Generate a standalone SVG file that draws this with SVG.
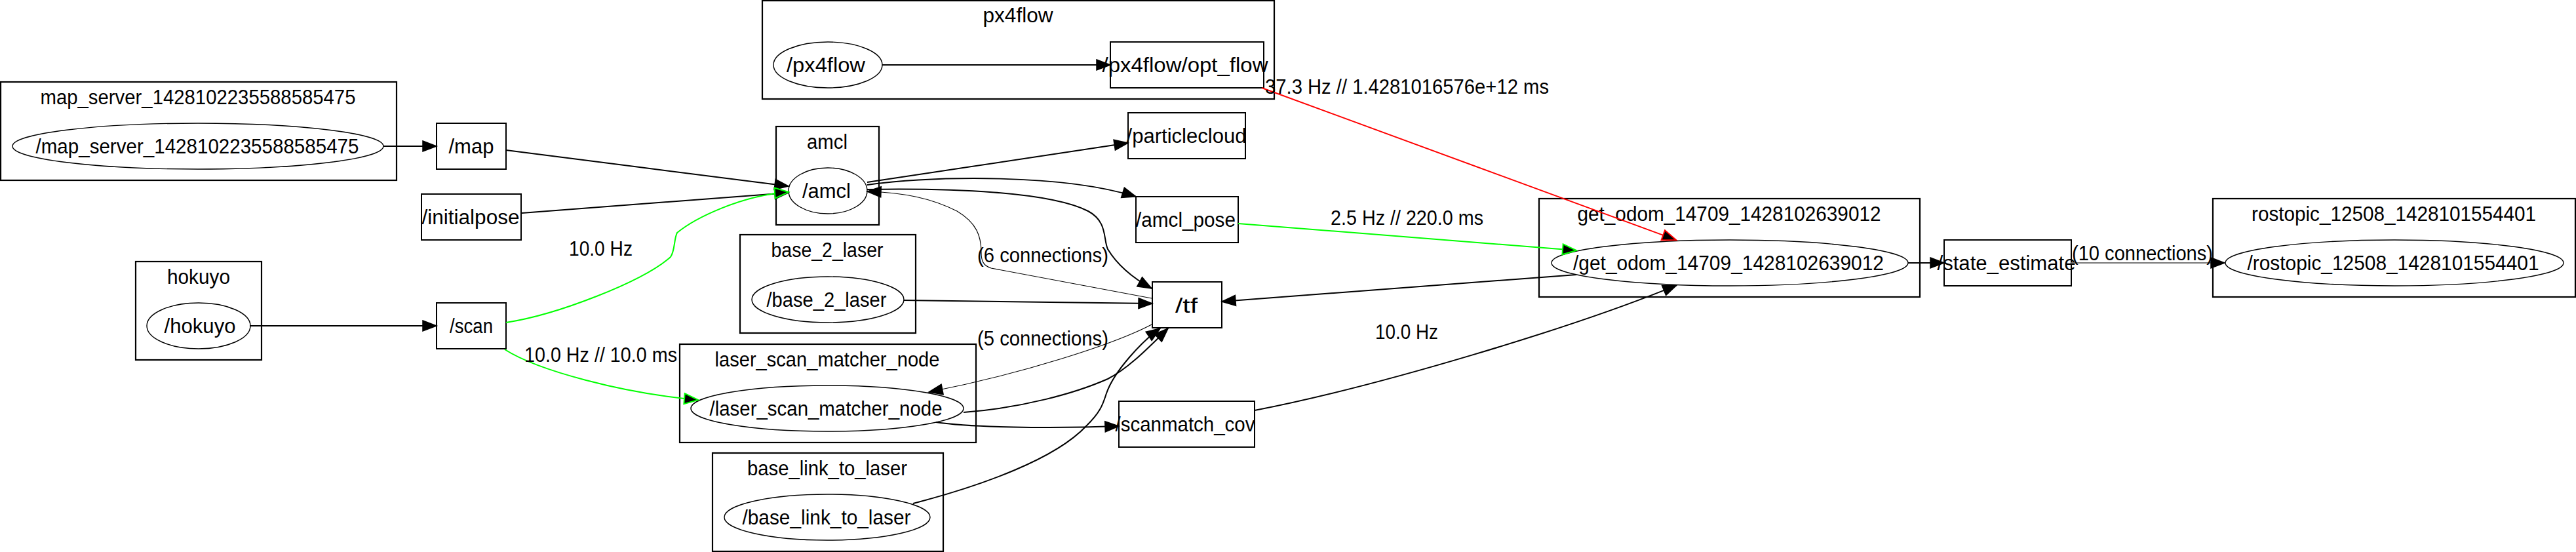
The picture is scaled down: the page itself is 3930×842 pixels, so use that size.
<svg xmlns="http://www.w3.org/2000/svg" width="3930" height="842" viewBox="0 0 3930 842">
<style>
text{font-family:"Liberation Sans",Arial,sans-serif;font-size:31px;fill:#000}
.m{text-anchor:middle}
.cl{fill:none;stroke:#000;stroke-width:2.2}
.nd{fill:none;stroke:#000;stroke-width:1.4}
.tp{fill:none;stroke:#000;stroke-width:2}
.e{fill:none;stroke:#000;stroke-width:2}
.thin{stroke-width:1.1}
.g{stroke:#00ff00}
.r{stroke:#ff0000}
.gr{stroke:#777}
</style>
<defs>
<marker id="ah" viewBox="0 0 22 17" refX="21" refY="8.5" markerWidth="22" markerHeight="17" markerUnits="userSpaceOnUse" orient="auto" overflow="visible"><path d="M0,0.5 L21,8.5 L0,16.5 z" fill="#000" stroke="#000" stroke-width="1.5"/></marker>
<marker id="ahg" viewBox="0 0 22 17" refX="21" refY="8.5" markerWidth="22" markerHeight="17" markerUnits="userSpaceOnUse" orient="auto" overflow="visible"><path d="M0,0.5 L21,8.5 L0,16.5 z" fill="#000" stroke="#00ff00" stroke-width="2"/></marker>
<marker id="ahr" viewBox="0 0 22 17" refX="21" refY="8.5" markerWidth="22" markerHeight="17" markerUnits="userSpaceOnUse" orient="auto" overflow="visible"><path d="M0,0.5 L21,8.5 L0,16.5 z" fill="#000" stroke="#ff0000" stroke-width="2"/></marker>
</defs>
<rect x="0" y="0" width="3930" height="842" fill="#fff"/>

<g id="cluster_map_server">
<rect class="cl" x="1" y="125" width="604" height="150"/>
<text class="m" x="302" y="159" textLength="481" lengthAdjust="spacingAndGlyphs">map_server_1428102235588585475</text>
<g id="node_map_server"><ellipse class="nd" cx="302" cy="223" rx="283" ry="35"/><text class="m" x="301" y="234" textLength="493" lengthAdjust="spacingAndGlyphs">/map_server_1428102235588585475</text></g>
</g>
<g id="topic_map"><rect class="tp" x="666" y="188" width="106" height="70"/><text class="m" x="719" y="234" textLength="69" lengthAdjust="spacingAndGlyphs">/map</text></g>
<g id="topic_initialpose"><rect class="tp" x="643" y="296" width="152" height="70"/><text class="m" x="718" y="342" textLength="149" lengthAdjust="spacingAndGlyphs">/initialpose</text></g>
<g id="cluster_hokuyo">
<rect class="cl" x="207" y="399" width="192" height="150"/>
<text class="m" x="303" y="433" textLength="96" lengthAdjust="spacingAndGlyphs">hokuyo</text>
<g id="node_hokuyo"><ellipse class="nd" cx="303" cy="497" rx="79" ry="35"/><text class="m" x="305" y="508" textLength="109" lengthAdjust="spacingAndGlyphs">/hokuyo</text></g>
</g>
<g id="topic_scan"><rect class="tp" x="666" y="462" width="106" height="70"/><text class="m" x="719" y="508" textLength="66" lengthAdjust="spacingAndGlyphs">/scan</text></g>
<g id="cluster_px4flow">
<rect class="cl" x="1163" y="1" width="781" height="150"/>
<text class="m" x="1553" y="34" textLength="107" lengthAdjust="spacingAndGlyphs">px4flow</text>
<g id="node_px4flow"><ellipse class="nd" cx="1263" cy="99" rx="83" ry="35"/><text class="m" x="1260" y="110" textLength="120" lengthAdjust="spacingAndGlyphs">/px4flow</text></g>
<g id="topic_opt_flow"><rect class="tp" x="1694" y="64" width="234" height="70"/><text class="m" x="1808" y="110" textLength="253" lengthAdjust="spacingAndGlyphs">/px4flow/opt_flow</text></g>
</g>
<g id="cluster_amcl">
<rect class="cl" x="1184" y="193" width="157" height="150"/>
<text class="m" x="1262" y="227" textLength="62" lengthAdjust="spacingAndGlyphs">amcl</text>
<g id="node_amcl"><ellipse class="nd" cx="1263" cy="291" rx="60" ry="35"/><text class="m" x="1261" y="302" textLength="74" lengthAdjust="spacingAndGlyphs">/amcl</text></g>
</g>
<g id="topic_particlecloud"><rect class="tp" x="1721" y="172" width="179" height="70"/><text class="m" x="1810" y="218" textLength="183" lengthAdjust="spacingAndGlyphs">/particlecloud</text></g>
<g id="topic_amcl_pose"><rect class="tp" x="1733" y="300" width="156" height="70"/><text class="m" x="1809" y="346" textLength="152" lengthAdjust="spacingAndGlyphs">/amcl_pose</text></g>
<g id="cluster_base_2_laser">
<rect class="cl" x="1129" y="358" width="268" height="150"/>
<text class="m" x="1262" y="392" textLength="171" lengthAdjust="spacingAndGlyphs">base_2_laser</text>
<g id="node_base_2_laser"><ellipse class="nd" cx="1263" cy="457" rx="116" ry="35"/><text class="m" x="1261" y="468" textLength="183" lengthAdjust="spacingAndGlyphs">/base_2_laser</text></g>
</g>
<g id="topic_tf"><rect class="tp" x="1758" y="430" width="106" height="70"/><text class="m" x="1810" y="477" textLength="34" lengthAdjust="spacingAndGlyphs">/tf</text></g>
<g id="cluster_laser_scan_matcher_node">
<rect class="cl" x="1037" y="525" width="452" height="150"/>
<text class="m" x="1262" y="559" textLength="343" lengthAdjust="spacingAndGlyphs">laser_scan_matcher_node</text>
<g id="node_laser_scan_matcher_node"><ellipse class="nd" cx="1262" cy="623" rx="208" ry="35"/><text class="m" x="1260" y="634" textLength="355" lengthAdjust="spacingAndGlyphs">/laser_scan_matcher_node</text></g>
</g>
<g id="topic_scanmatch_cov"><rect class="tp" x="1707" y="612" width="207" height="70"/><text class="m" x="1808" y="658" textLength="213" lengthAdjust="spacingAndGlyphs">/scanmatch_cov</text></g>
<g id="cluster_base_link_to_laser">
<rect class="cl" x="1087" y="691" width="352" height="150"/>
<text class="m" x="1262" y="725" textLength="244" lengthAdjust="spacingAndGlyphs">base_link_to_laser</text>
<g id="node_base_link_to_laser"><ellipse class="nd" cx="1262" cy="789" rx="157" ry="35"/><text class="m" x="1261" y="800" textLength="257" lengthAdjust="spacingAndGlyphs">/base_link_to_laser</text></g>
</g>
<g id="cluster_get_odom">
<rect class="cl" x="2348" y="303" width="581" height="150"/>
<text class="m" x="2638" y="337" textLength="463" lengthAdjust="spacingAndGlyphs">get_odom_14709_1428102639012</text>
<g id="node_get_odom"><ellipse class="nd" cx="2639" cy="401" rx="272" ry="35"/><text class="m" x="2637" y="412" textLength="474" lengthAdjust="spacingAndGlyphs">/get_odom_14709_1428102639012</text></g>
</g>
<g id="topic_state_estimate"><rect class="tp" x="2966" y="366" width="194" height="70"/><text class="m" x="3061" y="412" textLength="211" lengthAdjust="spacingAndGlyphs">/state_estimate</text></g>
<g id="cluster_rostopic">
<rect class="cl" x="3376" y="303" width="553" height="150"/>
<text class="m" x="3652" y="337" textLength="434" lengthAdjust="spacingAndGlyphs">rostopic_12508_1428101554401</text>
<g id="node_rostopic"><ellipse class="nd" cx="3653" cy="401" rx="258" ry="35"/><text class="m" x="3651" y="412" textLength="445" lengthAdjust="spacingAndGlyphs">/rostopic_12508_1428101554401</text></g>
</g>

<g id="connectors">
<path class="e" d="M585,223 L666,223" marker-end="url(#ah)"/>
<path class="e" d="M772,229 L1203,284" marker-end="url(#ah)"/>
<path class="e" d="M796,325 L1203,294" marker-end="url(#ah)"/>
<path class="e" d="M381,497 L666,497" marker-end="url(#ah)"/>
<path class="e g" d="M772,492 C850,480 980,430 1023,392 C1030,382 1028,365 1033,355 C1060,333 1130,298 1203,293" marker-end="url(#ahg)"/>
<path class="e g" d="M770,533 C820,565 950,600 1065,610" marker-end="url(#ahg)"/>
<path class="e" d="M1323,278 L1721,218" marker-end="url(#ah)"/>
<path class="e" d="M1323,282 C1430,268 1620,265 1733,300" marker-end="url(#ah)"/>
<path class="e" d="M1323,289 C1450,287 1600,292 1660,322 C1690,338 1683,365 1690,380 C1705,405 1730,425 1757,440" marker-end="url(#ah)"/>
<path class="e thin" d="M1757,455 L1512,409 C1500,405 1497,398 1497,385 C1497,360 1490,340 1460,322 C1420,302 1380,294 1323,292" marker-end="url(#ah)"/>
<path class="e" d="M1379,458 L1758,463" marker-end="url(#ah)"/>
<path class="e" d="M2405,419 L1864,460" marker-end="url(#ah)"/>
<path class="e thin" d="M1757,495 C1700,525 1560,570 1417,598" marker-end="url(#ah)"/>
<path class="e" d="M1470,629 C1560,622 1640,600 1690,578 C1725,560 1760,522 1782,501" marker-end="url(#ah)"/>
<path class="e" d="M1428,644 C1480,652 1600,654 1707,650" marker-end="url(#ah)"/>
<path class="e" d="M1393,768 C1500,740 1610,700 1657,650 C1680,628 1683,615 1688,600 C1700,565 1745,518 1770,501" marker-end="url(#ah)"/>
<path class="e" d="M1914,626 C2100,590 2400,500 2558,435" marker-end="url(#ah)"/>
<path class="e g" d="M1889,341 L2405,382" marker-end="url(#ahg)"/>
<path class="e" d="M1346,99 L1694,99" marker-end="url(#ah)"/>
<path class="e r" d="M1925,134 L2557,366" marker-end="url(#ahr)"/>
<path class="e" d="M2911,401 L2966,401" marker-end="url(#ah)"/>
<path class="e gr" d="M3160,401 L3394,401" marker-end="url(#ah)"/>
<text x="868" y="390" textLength="97" lengthAdjust="spacingAndGlyphs">10.0 Hz</text>
<text x="800" y="552" textLength="233" lengthAdjust="spacingAndGlyphs">10.0 Hz // 10.0 ms</text>
<text x="1491" y="400" textLength="200" lengthAdjust="spacingAndGlyphs">(6 connections)</text>
<text x="1491" y="527" textLength="200" lengthAdjust="spacingAndGlyphs">(5 connections)</text>
<text x="1930" y="143" textLength="433" lengthAdjust="spacingAndGlyphs">37.3 Hz // 1.4281016576e+12 ms</text>
<text x="2030" y="343" textLength="233" lengthAdjust="spacingAndGlyphs">2.5 Hz // 220.0 ms</text>
<text x="2098" y="517" textLength="96" lengthAdjust="spacingAndGlyphs">10.0 Hz</text>
<text x="3161" y="397" textLength="215" lengthAdjust="spacingAndGlyphs">(10 connections)</text>
</g>
</svg>
